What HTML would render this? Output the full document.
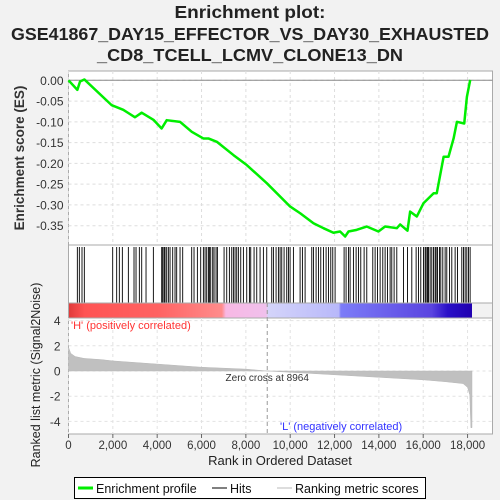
<!DOCTYPE html>
<html><head><meta charset="utf-8">
<style>
html,body{margin:0;padding:0;background:#f2f2f2;}
svg{display:block;font-family:"Liberation Sans","DejaVu Sans",sans-serif;}
</style></head>
<body>
<svg id="chart" width="500" height="500" viewBox="0 0 500 500">
<rect x="0" y="0" width="500" height="500" fill="#f2f2f2"/>
<text x="250" y="18" text-anchor="middle" font-size="17.5" font-weight="bold" fill="#222" textLength="151" lengthAdjust="spacingAndGlyphs">Enrichment plot:</text>
<text x="250" y="40" text-anchor="middle" font-size="17.5" font-weight="bold" fill="#222" textLength="478" lengthAdjust="spacingAndGlyphs">GSE41867_DAY15_EFFECTOR_VS_DAY30_EXHAUSTED</text>
<text x="250" y="61" text-anchor="middle" font-size="17.5" font-weight="bold" fill="#222" textLength="306" lengthAdjust="spacingAndGlyphs">_CD8_TCELL_LCMV_CLONE13_DN</text>
<defs>
<linearGradient id="rankGrad" x1="0" x2="1" y1="0" y2="0">
<stop offset="0" stop-color="#e03a3a"/>
<stop offset="0.04" stop-color="#ff5454"/>
<stop offset="0.22" stop-color="#ff6262"/>
<stop offset="0.38" stop-color="#ff8c8c"/>
<stop offset="0.39" stop-color="#f8b8e4"/>
<stop offset="0.49" stop-color="#f0c0ec"/>
<stop offset="0.495" stop-color="#d4d4fa"/>
<stop offset="0.67" stop-color="#b8b8fa"/>
<stop offset="0.675" stop-color="#7c7cf8"/>
<stop offset="0.9" stop-color="#5a44e0"/>
<stop offset="0.94" stop-color="#2a10c8"/>
<stop offset="1" stop-color="#2000b0"/>
</linearGradient>
</defs>
<g id="plots"></g>
<g>
<rect x="74.5" y="477.5" width="351" height="21" fill="#fff" stroke="#000"/>
<line x1="78" y1="488" x2="93" y2="488" stroke="#00ee00" stroke-width="3"/>
<text x="96" y="493" font-size="12.5" fill="#111">Enrichment profile</text>
<line x1="212" y1="488" x2="227" y2="488" stroke="#000" stroke-width="1"/>
<text x="230" y="493" font-size="12.5" fill="#111">Hits</text>
<line x1="277" y1="488" x2="292" y2="488" stroke="#bbb" stroke-width="1"/>
<text x="295" y="493" font-size="12.5" fill="#111">Ranking metric scores</text>
</g>
</svg>
<script>
const esRanks=[0,400,520,715,1950,2470,3000,3300,3830,4200,4430,5030,5560,6080,6310,6690,7440,8040,8950,10000,10450,11050,11500,11950,12250,12480,12630,13000,13450,13980,14280,14810,14960,15290,15410,15710,16010,16470,16610,16920,17140,17370,17520,17850,17970,18120];
const esValues=[0,-0.023,-0.003,0.002,-0.06,-0.071,-0.089,-0.078,-0.095,-0.116,-0.096,-0.1,-0.124,-0.14,-0.14,-0.148,-0.18,-0.204,-0.248,-0.304,-0.32,-0.344,-0.356,-0.367,-0.364,-0.376,-0.364,-0.36,-0.352,-0.364,-0.352,-0.356,-0.347,-0.362,-0.316,-0.328,-0.296,-0.272,-0.272,-0.184,-0.184,-0.14,-0.1,-0.104,-0.04,0.001];
const hitRanks=[399,489,609,714,1993,2173,2293,2429,2700,2955,3046,3196,3302,3497,3828,4204,4249,4309,4354,4429,4504,4580,4700,4805,4880,5031,5151,5557,5662,5813,5963,6084,6159,6234,6310,6355,6415,6505,6565,6656,6716,7017,7137,7257,7363,7438,7513,7588,7663,7769,7889,8039,8160,8220,8370,8491,8641,8791,8942,9167,9243,9363,9468,9544,9619,9724,9844,9920,9995,10145,10446,10551,10672,10973,11048,11168,11274,11379,11499,11619,11725,11830,11920,12025,12431,12521,12627,12702,12852,12973,13078,13183,13334,13454,13725,13830,13936,14056,14176,14281,14387,14507,14582,14687,14808,15109,15289,15485,15680,15785,15890,16011,16086,16131,16191,16236,16312,16387,16462,16537,16582,16642,16733,16793,16883,16988,17063,17184,17289,17439,17545,17740,17815,17891,17966,18041,18116];
const metricRanks=[0,100,300,700,1500,2000,4000,6000,8000,8964,10000,12000,14000,16000,17000,17800,18000,18100,18150,18200];
const metricValues=[1.9,1.4,1.15,1.0,0.9,0.8,0.55,0.3,0.15,0,-0.1,-0.3,-0.5,-0.7,-0.85,-1.0,-1.3,-1.9,-4.5,-4.5];
const xTicks=[0,2000,4000,6000,8000,10000,12000,14000,16000,18000];
const esTicks=[0,-0.05,-0.1,-0.15,-0.2,-0.25,-0.3,-0.35];
const metricTicks=[4,2,0,-2,-4];
const zeroCross=8964;
const totalRanks=18200;

const NS="http://www.w3.org/2000/svg";
const L=68.5,R=492.5;
const x=v=>68.5+v*0.02217;
const yES=v=>80.3-v*415.4;
const yM=v=>371-v*12.6;
const g=document.getElementById('plots');
function mk(tag,attrs,parent){const e=document.createElementNS(NS,tag);for(const k in attrs)e.setAttribute(k,attrs[k]);(parent||g).appendChild(e);return e;}
const fmt=n=>n.toLocaleString('en-US');

let r=mk('rect',{x:L,y:71,width:R-L,height:174,fill:'#fff',stroke:'#aaa'});


xTicks.forEach(t=>{let l=mk('line',{x1:x(t),x2:x(t),y1:71,y2:245,stroke:'#ddd','stroke-dasharray':'3,3'});

});
esTicks.forEach(t=>{let l=mk('line',{x1:L,x2:R,y1:yES(t),y2:yES(t),stroke:'#ddd','stroke-dasharray':'3,3'});


let tx=mk('text',{x:L-5,y:yES(t)+4.5,'text-anchor':'end','font-size':12,fill:'#333'});tx.textContent=t.toFixed(2);

});
let zl=mk('line',{x1:L,x2:R,y1:yES(0),y2:yES(0),stroke:'#888'});


let es=mk('polyline',{points:esRanks.map((k,i)=>x(k)+','+yES(esValues[i])).join(' '),fill:'none',stroke:'#00ee00','stroke-width':2.5,'stroke-linejoin':'round'});


let yt=mk('text',{transform:'translate(24,158) rotate(-90)','text-anchor':'middle','font-size':13.5,'font-weight':'bold',fill:'#333'});yt.textContent='Enrichment score (ES)';



let hp=mk('rect',{x:L,y:245,width:R-L,height:58,fill:'#fff',stroke:'#aaa'});


hitRanks.forEach(k=>{let l=mk('line',{x1:x(k),x2:x(k),y1:247,y2:303,stroke:'#000','stroke-width':0.9});

});
let cb=mk('rect',{x:L,y:303,width:x(totalRanks)-L,height:15,fill:'url(#rankGrad)'});


let cbf=mk('rect',{x:L,y:303,width:R-L,height:15,fill:'none',stroke:'#aaa'});



let mp=mk('rect',{x:L,y:318,width:R-L,height:116,fill:'#fff',stroke:'#aaa'});


xTicks.forEach(t=>{let l=mk('line',{x1:x(t),x2:x(t),y1:318,y2:434,stroke:'#e2e2e2','stroke-dasharray':'3,3'});

});
metricTicks.forEach(t=>{let l=mk('line',{x1:L,x2:R,y1:yM(t),y2:yM(t),stroke:'#e2e2e2','stroke-dasharray':'3,3'});


let tx=mk('text',{x:L-8,y:yM(t)+4.5,'text-anchor':'end','font-size':12,fill:'#333'});tx.textContent=t;

});
let pts=x(0)+','+yM(0)+' '+metricRanks.map((k,i)=>x(k)+','+yM(metricValues[i])).join(' ')+' '+x(totalRanks)+','+yM(0);
let ma=mk('polygon',{points:pts,fill:'#c0c0c0',stroke:'#b8b8b8','stroke-width':0.5});


let zc=mk('line',{x1:x(zeroCross),x2:x(zeroCross),y1:303,y2:434,stroke:'#999','stroke-dasharray':'4,3'});


let zt=mk('text',{x:x(zeroCross),y:381,'text-anchor':'middle','font-size':10,fill:'#333'});zt.textContent='Zero cross at '+zeroCross;


let ht=mk('text',{x:71,y:329,'font-size':11,fill:'#ff3333'});ht.textContent="'H' (positively correlated)";


let lt=mk('text',{x:280,y:430,'font-size':11,fill:'#3333ff'});lt.textContent="'L' (negatively correlated)";


xTicks.forEach(t=>{let l=mk('line',{x1:x(t),x2:x(t),y1:434,y2:438,stroke:'#666'});


let tx=mk('text',{x:x(t),y:449,'text-anchor':'middle','font-size':11.5,fill:'#333'});tx.textContent=fmt(t);

});
let xt=mk('text',{x:280,y:465,'text-anchor':'middle','font-size':13,fill:'#222'});xt.textContent='Rank in Ordered Dataset';


let myt=mk('text',{transform:'translate(40,375) rotate(-90)','text-anchor':'middle','font-size':12.5,fill:'#222'});myt.textContent='Ranked list metric (Signal2Noise)';


</script>
</body></html>
